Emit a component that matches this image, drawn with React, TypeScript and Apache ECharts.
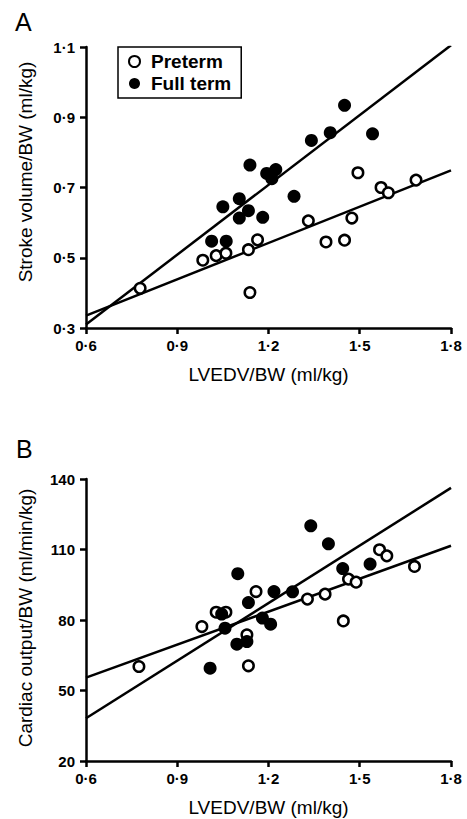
import React, { useEffect, useRef } from "react";
import * as echarts from "echarts";

// Panel A: stroke volume / BW vs LVEDV / BW
const preA_x = [0.778, 0.984, 1.028, 1.060, 1.134, 1.164, 1.139, 1.331, 1.389, 1.450, 1.474, 1.494, 1.570, 1.594, 1.685];
const preA_y = [0.413, 0.493, 0.506, 0.513, 0.523, 0.551, 0.401, 0.605, 0.545, 0.550, 0.613, 0.742, 0.700, 0.685, 0.721];
const fullA_x = [1.013, 1.061, 1.050, 1.104, 1.104, 1.134, 1.139, 1.181, 1.194, 1.224, 1.211, 1.284, 1.341, 1.403, 1.450, 1.542];
const fullA_y = [0.547, 0.547, 0.645, 0.668, 0.613, 0.634, 0.764, 0.615, 0.740, 0.751, 0.725, 0.675, 0.834, 0.856, 0.934, 0.853];

// Panel B: cardiac output / BW vs LVEDV / BW
const preB_x = [0.774, 0.981, 1.028, 1.060, 1.129, 1.134, 1.159, 1.328, 1.386, 1.446, 1.463, 1.488, 1.565, 1.589, 1.680];
const preB_y = [60.2, 77.2, 83.3, 83.3, 73.7, 60.5, 92.1, 88.9, 91.0, 79.6, 97.4, 96.1, 109.9, 107.3, 102.8];
const fullB_x = [1.008, 1.046, 1.057, 1.096, 1.129, 1.134, 1.099, 1.180, 1.207, 1.218, 1.279, 1.339, 1.397, 1.444, 1.534];
const fullB_y = [59.5, 82.5, 76.5, 69.7, 70.8, 87.4, 99.7, 80.8, 78.2, 92.1, 92.0, 120.1, 112.4, 101.9, 103.8];

// Regression lines (endpoints at x = 0.6 and 1.8)
const fitX = [0.6, 1.8];
const fitA_pre = [0.335, 0.749];
const fitA_full = [0.31, 1.105];
const fitB_pre = [55.5, 111.6];
const fitB_full = [38.2, 136.2];

const seriesNames = ["Preterm", "Full term"];
const xAxisTitle = "LVEDV/BW (ml/kg)";
const yAxisTitleA = "Stroke volume/BW (ml/kg)";
const yAxisTitleB = "Cardiac output/BW (ml/min/kg)";

const FONT = "'Liberation Sans', Arial, Helvetica, sans-serif";

const zip = (xs: number[], ys: number[]) => xs.map((x, i) => [x, ys[i]]);
const dot = (v: number) => v.toFixed(1).replace(".", "\u00b7");

export default function App() {
  const ref = useRef<HTMLDivElement>(null);
  useEffect(() => {
    if (!ref.current) return;
    const chart = echarts.init(ref.current, undefined, { renderer: "svg" });

    const axisCommon = {
      axisLine: { show: true, onZero: false, lineStyle: { color: "#000", width: 2.5 } },
      axisTick: { show: true, inside: false, length: 6, lineStyle: { color: "#000", width: 2.5 } },
      splitLine: { show: false },
    };
    const labelStyle = { color: "#000", fontSize: 15, fontWeight: "bold", fontFamily: FONT };
    const xAxis = (gi: number) => ({
      ...axisCommon,
      type: "value",
      gridIndex: gi,
      min: 0.6,
      max: 1.8,
      interval: 0.3,
      axisLabel: { ...labelStyle, margin: 10, formatter: (v: number) => dot(v) },
      name: xAxisTitle,
      nameLocation: "middle",
      nameGap: 37,
      nameTextStyle: { color: "#000", fontSize: 19, fontFamily: FONT },
    });

    const openStyle = { color: "#fff", borderColor: "#000", borderWidth: 2.5, opacity: 1 };
    const fillStyle = { color: "#000", opacity: 1 };
    const lineSeries = (gi: number, ys: number[]) => ({
      type: "line",
      xAxisIndex: gi,
      yAxisIndex: gi,
      data: zip(fitX, ys),
      symbol: "none",
      lineStyle: { color: "#000", width: 2.5 },
      z: 2,
      silent: true,
    });

    chart.setOption({
      animation: false,
      backgroundColor: "#fff",
      grid: [
        { left: 86, top: 47, width: 365, height: 281 },
        { left: 86, top: 479, width: 365, height: 282 },
      ],
      xAxis: [xAxis(0), xAxis(1)],
      yAxis: [
        {
          ...axisCommon,
          type: "value",
          gridIndex: 0,
          min: 0.3,
          max: 1.1,
          interval: 0.2,
          axisLabel: { ...labelStyle, margin: 11, formatter: (v: number) => dot(v) },
        },
        {
          ...axisCommon,
          type: "value",
          gridIndex: 1,
          min: 20,
          max: 140,
          interval: 30,
          axisLabel: { ...labelStyle, margin: 11 },
        },
      ],
      legend: {
        orient: "vertical",
        left: 118,
        top: 47,
        borderColor: "#000",
        borderWidth: 1.5,
        padding: [5, 10, 5, 10],
        itemGap: 3,
        itemWidth: 11,
        itemHeight: 11,
        icon: "circle",
        textStyle: { color: "#000", fontSize: 19, fontWeight: "bold", fontFamily: FONT, padding: [0, 0, 0, 6] },
        data: [
          { name: seriesNames[0], itemStyle: { color: "#fff", borderColor: "#000", borderWidth: 2, opacity: 1 } },
          { name: seriesNames[1], itemStyle: { color: "#000", opacity: 1 } },
        ],
      },
      graphic: [
        { type: "text", left: 15, top: 9, style: { text: "A", fontSize: 25, fontFamily: FONT, fill: "#000" } },
        { type: "text", left: 16, top: 436, style: { text: "B", fontSize: 25, fontFamily: FONT, fill: "#000" } },
        {
          type: "text",
          x: 25,
          y: 172,
          rotation: Math.PI / 2,
          style: { text: yAxisTitleA, fontSize: 19, fontFamily: FONT, fill: "#000", align: "center", verticalAlign: "middle" },
        },
        {
          type: "text",
          x: 25,
          y: 618,
          rotation: Math.PI / 2,
          style: { text: yAxisTitleB, fontSize: 19, fontFamily: FONT, fill: "#000", align: "center", verticalAlign: "middle" },
        },
      ],
      series: [
        lineSeries(0, fitA_pre),
        lineSeries(0, fitA_full),
        lineSeries(1, fitB_pre),
        lineSeries(1, fitB_full),
        { name: seriesNames[0], type: "scatter", xAxisIndex: 0, yAxisIndex: 0, symbol: "circle", symbolSize: 10.5, itemStyle: openStyle, data: zip(preA_x, preA_y), z: 3 },
        { name: seriesNames[1], type: "scatter", xAxisIndex: 0, yAxisIndex: 0, symbol: "circle", symbolSize: 13, itemStyle: fillStyle, data: zip(fullA_x, fullA_y), z: 3 },
        { name: seriesNames[0], type: "scatter", xAxisIndex: 1, yAxisIndex: 1, symbol: "circle", symbolSize: 10.5, itemStyle: openStyle, data: zip(preB_x, preB_y), z: 3 },
        { name: seriesNames[1], type: "scatter", xAxisIndex: 1, yAxisIndex: 1, symbol: "circle", symbolSize: 13, itemStyle: fillStyle, data: zip(fullB_x, fullB_y), z: 3 },
      ],
    });
    return () => chart.dispose();
  }, []);
  return <div ref={ref} style={{ position: "absolute", left: 0, top: 0, width: 467, height: 819 }} />;
}
